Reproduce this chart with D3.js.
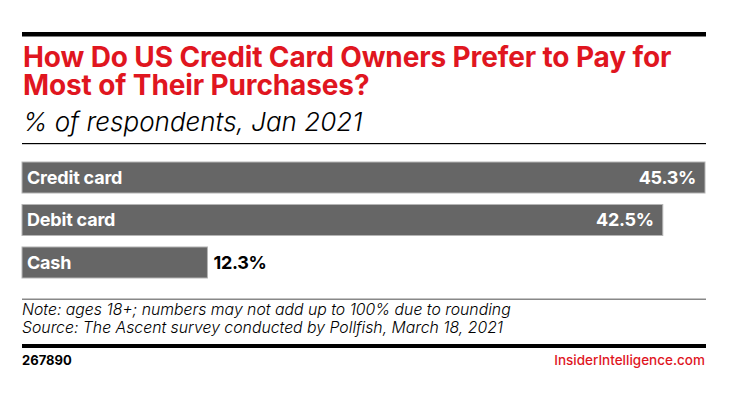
<!DOCTYPE html>
<html>
<head>
<meta charset="utf-8">
<script src="https://cdn.jsdelivr.net/npm/d3@7"></script>
<style>
  body { margin: 0; background: #fff; }
  text { font-family: Inter, "DejaVu Sans", sans-serif; }
</style>
</head>
<body>
<div id="chart"></div>
<script>
// chart data
const categories = ["Credit card", "Debit card", "Cash"];
const values = [45.3, 42.5, 12.3];

const titleLines = ["How Do US Credit Card Owners Prefer to Pay for", "Most of Their Purchases?"];
const subtitle = "% of respondents, Jan 2021";
const notes = [
    "Note: ages 18+; numbers may not add up to 100% due to rounding",
    "Source: The Ascent survey conducted by Pollfish, March 18, 2021"
];
const chartId = "267890";
const brand = "InsiderIntelligence.com";

const W = 736, H = 393;
const left = 22, right = 706;
const red = "#e0161f";

const svg = d3.select("#chart")
    .append("svg")
    .attr("width", W)
    .attr("height", H);

svg.append("rect").attr("width", W).attr("height", H).attr("fill", "#fff");

// top rule
svg.append("rect")
    .attr("x", left).attr("y", 32)
    .attr("width", right - left).attr("height", 4.5)
    .attr("fill", "#000");

// title, two lines set tight
svg.selectAll(".title")
    .data(titleLines)
    .enter().append("text")
    .attr("class", "title")
    .attr("x", left + 1)
    .attr("y", (d, i) => 67 + i * 28)
    .attr("fill", red)
    .style("font-size", "28px")
    .style("font-weight", 700)
    .style("letter-spacing", "-0.12px")
    .text(d => d);

svg.append("text")
    .attr("class", "subtitle")
    .attr("x", left + 1)
    .attr("y", 131)
    .style("font-size", "26px")
    .style("font-style", "italic")
    .style("font-weight", 300)
    .attr("fill", "#000")
    .text(subtitle);

svg.append("rect")
    .attr("x", left).attr("y", 143)
    .attr("width", right - left).attr("height", 1.2)
    .attr("fill", "#000");

// scales
const x = d3.scaleLinear()
    .domain([0, d3.max(values)])
    .range([left, right - 1]);

const y = d3.scaleBand()
    .domain(categories)
    .range([162, 278])
    .paddingInner(0.27);

const bars = svg.selectAll(".bar")
    .data(categories)
    .enter().append("g")
    .attr("class", "bar");

bars.append("rect")
    .attr("x", x(0))
    .attr("y", d => y(d))
    .attr("width", (d, i) => x(values[i]) - x(0))
    .attr("height", y.bandwidth())
    .attr("fill", "#666")
    .attr("stroke", "#b5b5b5")
    .attr("stroke-width", 1);

bars.append("text")
    .attr("x", x(0) + 5)
    .attr("y", d => y(d) + y.bandwidth() / 2)
    .attr("dy", ".36em")
    .attr("fill", "#fff")
    .style("font-size", "18px")
    .style("font-weight", 700)
    .style("letter-spacing", "-0.2px")
    .text(d => d);

// value labels: inside the bar when there is room, outside otherwise
bars.append("text")
    .attr("x", (d, i) => values[i] > 20 ? x(values[i]) - 9 : x(values[i]) + 6)
    .attr("y", d => y(d) + y.bandwidth() / 2)
    .attr("dy", ".36em")
    .attr("text-anchor", (d, i) => values[i] > 20 ? "end" : "start")
    .attr("fill", (d, i) => values[i] > 20 ? "#fff" : "#000")
    .style("font-size", "18px")
    .style("font-weight", 700)
    .style("letter-spacing", "-0.3px")
    .text((d, i) => values[i].toFixed(1) + "%");

// footer
svg.append("rect")
    .attr("x", left).attr("y", 298.5)
    .attr("width", right - left).attr("height", 1.5)
    .attr("fill", "#888");

svg.selectAll(".note")
    .data(notes)
    .enter().append("text")
    .attr("class", "note")
    .attr("x", left)
    .attr("y", (d, i) => 315 + i * 18)
    .style("font-size", "15.8px")
    .style("font-style", "italic")
    .style("font-weight", 300)
    .attr("fill", "#000")
    .text(d => d);

svg.append("rect")
    .attr("x", left).attr("y", 344)
    .attr("width", right - left).attr("height", 4)
    .attr("fill", "#000");

svg.append("text")
    .attr("x", left)
    .attr("y", 365)
    .style("font-size", "13px")
    .style("font-weight", 700)
    .attr("fill", "#000")
    .text(chartId);

svg.append("text")
    .attr("x", right - 1)
    .attr("y", 365)
    .attr("text-anchor", "end")
    .style("font-size", "13.5px")
    .style("font-weight", 500)
    .attr("fill", red)
    .text(brand);
</script>
</body>
</html>
